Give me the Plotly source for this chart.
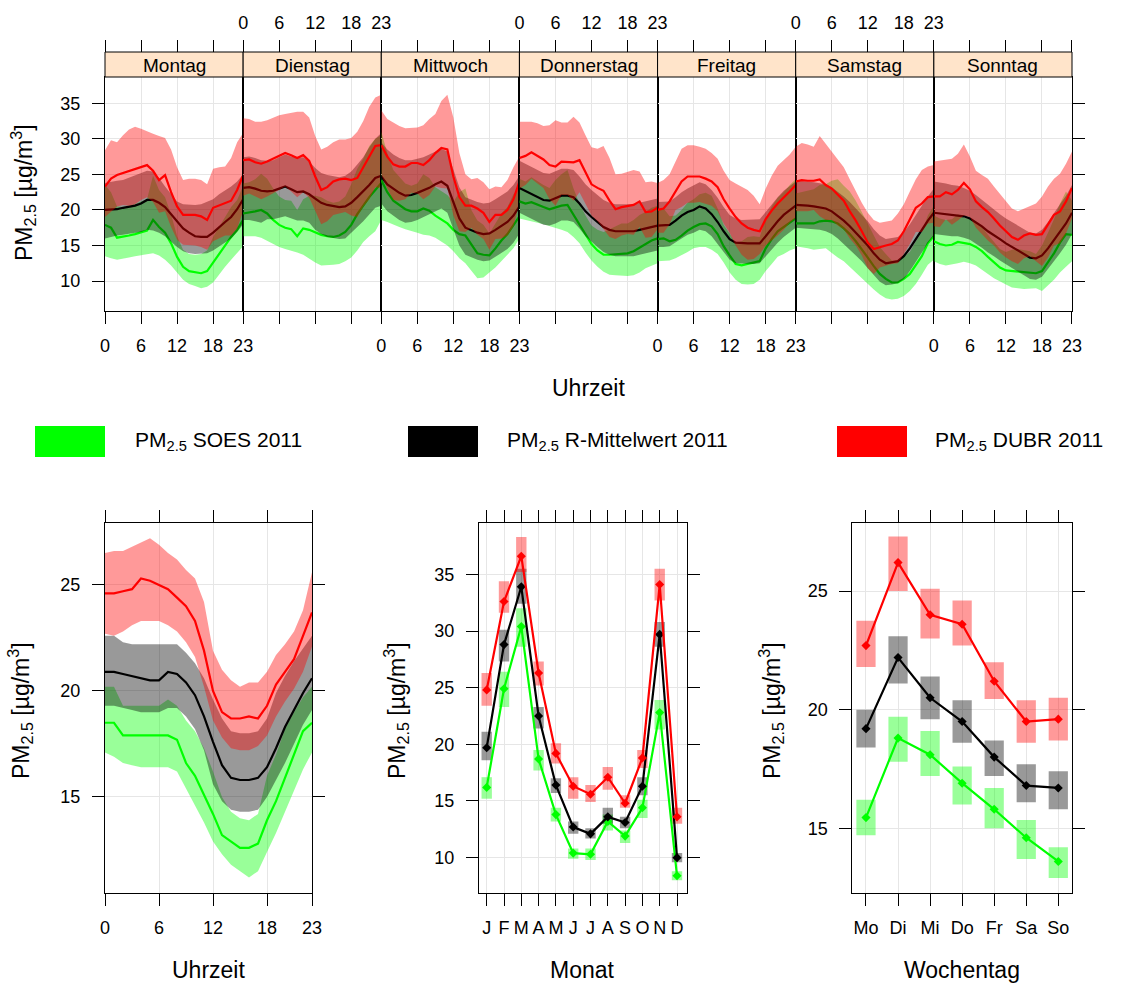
import plotly.graph_objects as go

W, H = 1136, 985
def px(x): return x / W
def py(y): return 1 - y / H

FONT = "Liberation Sans, Arial, sans-serif"

days = ["Montag", "Dienstag", "Mittwoch", "Donnerstag", "Freitag", "Samstag", "Sonntag"]
hours = list(range(24))
hour_ticks = [0, 6, 12, 18, 23]

# ---------------- top panel data (per weekday, per hour) ----------------
dubr_mean = [
 [23.3, 24.4, 24.9, 25.2, 25.5, 25.8, 26.1, 26.3, 25.5, 24.2, 24.9, 22.5, 20.5, 19.3, 19.3, 19.3, 19.1, 18.6, 20.3, 20.6, 20.9, 21.3, 22.8, 24.9],
 [27.0, 27.1, 26.7, 26.5, 26.8, 27.2, 27.6, 28.0, 27.7, 27.3, 27.7, 26.9, 24.7, 22.8, 23.2, 24.0, 24.3, 24.4, 24.2, 24.5, 26.0, 27.5, 29.0, 29.1],
 [29.1, 27.5, 26.4, 26.1, 26.1, 26.6, 26.6, 26.3, 27.0, 28.0, 28.7, 28.5, 24.7, 21.8, 20.6, 20.6, 20.2, 19.6, 18.3, 19.3, 19.3, 20.0, 21.5, 24.0],
 [27.3, 27.6, 28.1, 27.6, 27.1, 26.3, 26.1, 26.8, 26.8, 26.7, 27.0, 25.3, 23.6, 23.1, 22.7, 21.3, 20.1, 20.4, 20.6, 20.7, 21.2, 19.7, 19.8, 20.3],
 [20.0, 20.2, 21.2, 22.6, 24.0, 24.7, 24.7, 24.7, 24.4, 24.0, 23.2, 21.5, 20.2, 19.0, 18.1, 17.5, 17.2, 17.0, 18.7, 19.9, 20.9, 21.7, 22.6, 23.5],
 [24.0, 24.2, 24.1, 24.1, 24.3, 23.5, 23.0, 22.1, 21.3, 19.8, 18.5, 17.0, 15.4, 14.5, 14.8, 15.0, 15.2, 15.7, 17.0, 18.6, 20.3, 20.9, 21.8, 21.9],
 [21.9, 21.9, 22.5, 22.2, 22.8, 23.8, 22.9, 21.2, 20.4, 19.7, 18.8, 17.8, 17.0, 16.2, 15.8, 16.4, 16.7, 16.5, 16.6, 17.9, 19.3, 19.8, 21.2, 23.1],
]
dubr_hi = [
 [28.4, 29.8, 29.5, 30.5, 31.3, 31.7, 31.4, 31.0, 30.7, 30.4, 30.1, 28.5, 26.0, 24.2, 24.4, 24.4, 24.2, 23.6, 25.8, 26.0, 26.1, 27.3, 29.5, 30.8],
 [32.9, 32.8, 32.4, 32.4, 32.6, 33.0, 33.3, 33.5, 33.7, 33.8, 33.8, 33.0, 30.4, 28.5, 28.9, 29.5, 29.9, 29.9, 30.1, 31.0, 32.5, 34.5, 35.8, 36.2],
 [34.0, 32.8, 32.3, 31.8, 31.5, 31.5, 31.6, 31.9, 32.8, 33.5, 35.3, 36.2, 33.0, 28.0, 25.0, 24.3, 24.5, 23.9, 22.9, 23.3, 23.2, 24.2, 26.0, 27.5],
 [32.4, 32.4, 32.4, 32.2, 31.8, 31.9, 32.6, 32.3, 32.3, 33.1, 32.3, 30.5, 28.8, 28.6, 29.0, 27.3, 25.0, 25.1, 25.3, 25.6, 25.4, 23.9, 24.0, 23.8],
 [23.8, 24.2, 25.0, 26.8, 28.6, 29.1, 29.1, 28.9, 28.6, 28.0, 27.2, 25.5, 24.2, 23.7, 23.3, 22.8, 22.0, 20.8, 23.0, 24.8, 26.2, 27.0, 27.8, 28.9],
 [28.9, 29.4, 29.2, 28.9, 30.4, 29.3, 28.2, 27.2, 26.0, 24.3, 22.6, 21.0, 19.6, 18.6, 18.2, 18.3, 18.5, 19.5, 20.8, 22.6, 24.3, 25.6, 26.1, 26.3],
 [26.8, 26.9, 27.0, 27.2, 27.9, 29.2, 27.5, 25.5, 24.9, 24.4, 23.3, 22.3, 21.3, 20.2, 19.8, 20.2, 20.5, 20.9, 21.9, 23.3, 24.4, 25.1, 26.5, 28.2],
]
dubr_lo = [
 [19.0, 19.8, 20.5, 20.7, 20.6, 20.8, 21.4, 21.8, 21.1, 19.6, 19.8, 17.6, 15.8, 15.1, 15.0, 15.0, 14.8, 14.4, 15.6, 16.0, 16.4, 16.4, 17.4, 19.8],
 [22.0, 22.3, 21.9, 21.5, 21.9, 22.3, 22.8, 23.3, 22.6, 21.8, 22.5, 21.7, 19.9, 18.0, 18.4, 19.3, 19.5, 19.7, 19.2, 19.0, 20.5, 21.5, 23.2, 23.1],
 [24.9, 23.0, 21.4, 21.3, 21.5, 22.4, 22.3, 21.5, 22.1, 23.3, 23.1, 23.0, 19.2, 17.0, 16.9, 17.5, 16.5, 15.9, 14.4, 15.9, 16.0, 16.4, 17.7, 21.0],
 [23.0, 23.5, 24.4, 23.7, 23.1, 21.5, 20.6, 22.1, 22.1, 21.3, 22.5, 20.9, 19.2, 18.4, 17.3, 16.2, 15.9, 16.4, 16.6, 16.5, 17.6, 16.1, 16.2, 17.3],
 [16.8, 16.8, 18.0, 20.0, 20.4, 21.0, 21.0, 21.1, 20.8, 20.6, 19.8, 18.1, 16.8, 15.0, 13.7, 13.0, 13.1, 13.8, 15.0, 15.7, 16.4, 17.2, 18.2, 18.9],
 [19.8, 19.8, 19.8, 20.0, 19.1, 18.6, 18.6, 17.8, 17.3, 16.0, 15.0, 13.6, 11.8, 11.0, 11.9, 12.2, 12.4, 12.5, 13.8, 15.2, 16.9, 16.9, 18.1, 18.2],
 [17.7, 17.6, 18.7, 17.9, 18.5, 19.2, 19.0, 17.5, 16.6, 15.7, 15.0, 14.0, 13.3, 12.8, 12.4, 13.2, 13.5, 12.8, 12.1, 13.3, 15.0, 15.3, 16.7, 18.8],
]
rmw_mean = [
 [20.0, 20.0, 20.1, 20.3, 20.4, 20.6, 20.9, 21.4, 21.4, 21.0, 20.4, 19.4, 18.4, 17.4, 16.8, 16.3, 16.2, 16.2, 16.8, 17.6, 18.3, 19.0, 20.1, 21.5],
 [23.1, 23.2, 23.0, 22.7, 22.6, 22.7, 23.0, 23.3, 22.9, 22.5, 22.6, 22.2, 21.6, 21.0, 20.7, 20.5, 20.4, 20.5, 21.0, 21.8, 22.6, 23.5, 24.5, 24.8],
 [24.7, 23.6, 23.0, 22.4, 22.0, 22.1, 22.4, 22.7, 23.1, 23.6, 24.0, 23.4, 21.0, 18.8, 17.5, 17.1, 16.8, 16.6, 16.7, 17.2, 17.7, 18.3, 19.2, 20.5],
 [23.1, 22.7, 22.2, 21.8, 21.4, 21.3, 21.6, 22.0, 22.0, 21.8, 20.9, 19.8, 19.0, 18.3, 17.6, 17.2, 17.0, 17.0, 17.0, 17.0, 17.2, 17.4, 17.6, 17.8],
 [17.8, 17.8, 17.9, 18.5, 19.2, 19.7, 20.0, 20.5, 20.2, 19.4, 18.3, 17.0, 15.9, 15.4, 15.3, 15.3, 15.3, 15.3, 16.3, 17.4, 18.4, 19.3, 20.0, 20.6],
 [20.7, 20.7, 20.6, 20.5, 20.4, 20.2, 19.8, 19.2, 18.5, 17.7, 16.8, 16.0, 15.0, 13.9, 13.0, 12.5, 12.6, 12.8, 13.5, 14.6, 15.9, 17.2, 18.5, 19.6],
 [19.6, 19.5, 19.4, 19.3, 19.3, 19.1, 18.8, 18.3, 17.7, 17.0, 16.5, 15.9, 15.3, 14.8, 14.3, 13.8, 13.3, 13.2, 13.6, 14.6, 15.8, 16.9, 18.1, 19.6],
]
rmw_hi = [
 [23.8, 24.0, 24.1, 24.2, 24.5, 24.8, 25.1, 25.5, 25.4, 24.5, 23.3, 22.2, 21.2, 20.8, 20.7, 20.7, 20.8, 21.1, 21.5, 22.2, 22.7, 23.3, 24.0, 25.0],
 [27.4, 27.5, 27.3, 27.0, 26.9, 27.0, 27.4, 27.8, 27.5, 27.3, 27.4, 26.8, 25.9, 25.2, 24.9, 24.7, 24.6, 24.8, 25.4, 26.4, 27.4, 28.8, 30.0, 30.8],
 [29.5, 28.5, 27.8, 27.3, 27.0, 27.0, 27.2, 27.4, 27.8, 28.2, 28.6, 28.2, 25.8, 23.2, 21.8, 21.4, 21.1, 20.9, 21.0, 21.5, 22.0, 22.6, 23.5, 24.8],
 [26.9, 26.5, 26.0, 25.6, 25.2, 25.1, 25.4, 25.8, 25.8, 25.6, 24.7, 23.6, 22.8, 22.1, 21.4, 21.0, 20.8, 20.8, 20.8, 20.8, 21.0, 21.2, 21.4, 21.6],
 [21.1, 21.1, 21.2, 21.8, 22.5, 23.0, 23.4, 23.9, 23.6, 22.8, 21.7, 20.4, 19.3, 18.8, 18.6, 18.6, 18.6, 18.7, 19.7, 20.8, 21.8, 22.7, 23.4, 24.0],
 [24.1, 24.1, 24.0, 23.9, 23.8, 23.6, 23.2, 22.6, 21.9, 21.1, 20.2, 19.4, 18.4, 17.3, 16.4, 15.9, 16.0, 16.2, 16.9, 18.0, 19.3, 20.6, 21.9, 23.0],
 [24.0, 23.9, 23.7, 23.5, 23.4, 23.1, 22.7, 22.1, 21.4, 20.7, 20.1, 19.4, 18.8, 18.3, 17.8, 17.3, 16.8, 16.7, 17.2, 18.3, 19.6, 20.8, 22.0, 23.5],
]
rmw_lo = [
 [16.0, 16.2, 16.4, 16.5, 16.6, 16.8, 16.9, 17.2, 17.1, 16.8, 16.3, 15.5, 14.8, 14.2, 13.9, 13.8, 13.8, 13.9, 14.3, 14.9, 15.4, 16.0, 16.9, 18.0],
 [18.6, 18.6, 18.4, 18.2, 18.7, 18.7, 18.9, 19.1, 18.8, 18.5, 18.5, 18.2, 17.2, 16.6, 16.2, 16.0, 15.9, 16.0, 16.8, 17.6, 18.4, 19.3, 20.3, 20.6],
 [20.9, 19.8, 19.2, 18.6, 18.2, 18.3, 18.6, 18.9, 19.3, 19.8, 20.2, 19.6, 17.2, 15.0, 13.7, 13.3, 13.0, 12.8, 12.9, 13.4, 13.9, 14.5, 15.4, 16.7],
 [19.6, 19.2, 18.7, 18.3, 17.9, 17.8, 18.1, 18.5, 18.5, 18.3, 17.4, 16.3, 15.5, 14.8, 14.1, 13.7, 13.5, 13.5, 13.5, 13.5, 13.7, 13.9, 14.1, 14.3],
 [14.8, 14.8, 14.9, 15.4, 16.0, 16.5, 16.8, 17.2, 17.0, 16.3, 15.3, 14.1, 13.0, 12.5, 12.4, 12.4, 12.4, 12.5, 13.4, 14.4, 15.4, 16.2, 16.9, 17.5],
 [17.5, 17.5, 17.4, 17.3, 17.2, 17.0, 16.6, 16.0, 15.3, 14.5, 13.6, 12.8, 11.8, 10.8, 9.9, 9.4, 9.5, 9.7, 10.3, 11.4, 12.7, 14.0, 15.3, 16.4],
 [16.6, 16.5, 16.4, 16.3, 16.3, 16.1, 15.8, 15.3, 14.7, 14.0, 13.5, 12.9, 12.3, 11.8, 11.3, 10.8, 10.3, 10.2, 10.6, 11.6, 12.8, 13.9, 15.1, 16.6],
]
soes_mean = [
 [17.9, 17.5, 16.1, 16.2, 16.4, 16.6, 16.9, 17.1, 18.6, 17.6, 16.8, 15.3, 13.4, 12.0, 11.4, 11.2, 11.1, 11.4, 12.6, 13.8, 15.0, 16.2, 17.2, 18.6],
 [19.5, 19.6, 19.8, 20.0, 19.5, 18.6, 17.9, 17.5, 17.3, 16.3, 17.4, 17.2, 16.8, 16.5, 16.3, 16.2, 16.4, 16.9, 17.9, 19.4, 20.6, 21.8, 22.8, 23.8],
 [24.2, 22.5, 21.3, 20.7, 20.1, 19.8, 19.8, 20.2, 19.9, 19.2, 18.7, 18.1, 17.2, 16.6, 16.4, 15.2, 13.9, 13.7, 13.6, 14.6, 15.7, 16.6, 17.9, 19.1],
 [21.2, 20.9, 21.1, 20.7, 20.4, 20.1, 20.4, 20.6, 20.7, 19.3, 17.9, 16.4, 15.2, 14.3, 13.7, 13.7, 13.8, 13.9, 13.9, 14.2, 14.7, 15.2, 15.7, 16.0],
 [15.9, 16.0, 15.6, 15.8, 16.4, 17.1, 17.6, 18.0, 18.1, 17.7, 16.6, 14.9, 13.6, 12.4, 12.2, 12.4, 12.5, 12.8, 14.6, 15.9, 17.0, 17.6, 18.3, 18.8],
 [18.1, 18.1, 18.1, 18.1, 18.4, 18.5, 18.4, 18.1, 17.4, 16.6, 15.6, 14.5, 13.3, 12.1, 11.0, 10.3, 9.8, 9.8, 10.3, 11.0, 12.2, 13.5, 15.3, 16.3],
 [15.6, 15.2, 15.0, 15.1, 15.5, 15.4, 15.2, 14.8, 14.2, 13.4, 12.6, 11.9, 11.5, 11.4, 11.4, 11.3, 11.2, 11.1, 11.4, 12.6, 13.9, 15.4, 16.6, 16.5],
]
soes_hi = [
 [23.5, 22.5, 20.5, 20.4, 20.6, 20.8, 21.2, 21.5, 24.8, 22.8, 21.8, 19.4, 16.3, 14.4, 13.8, 13.7, 13.8, 14.3, 16.2, 17.6, 18.9, 20.4, 21.4, 23.4],
 [23.7, 23.9, 24.3, 25.1, 24.4, 23.0, 21.9, 21.4, 21.3, 20.0, 21.5, 22.0, 22.0, 21.8, 21.3, 21.0, 21.2, 21.9, 23.6, 25.8, 27.2, 29.0, 30.0, 30.5],
 [31.0, 28.0, 25.6, 24.7, 23.7, 23.4, 23.7, 25.0, 24.5, 23.2, 22.7, 22.1, 21.1, 22.5, 23.0, 20.0, 18.5, 17.9, 16.7, 18.1, 19.5, 20.4, 22.2, 23.1],
 [24.4, 24.0, 24.6, 24.0, 23.5, 23.1, 24.2, 25.0, 25.6, 23.0, 20.9, 19.2, 17.8, 17.2, 16.9, 17.3, 17.7, 18.1, 18.1, 18.6, 19.3, 19.7, 20.3, 20.6],
 [19.9, 20.2, 19.1, 19.2, 20.0, 21.0, 21.5, 22.2, 22.4, 22.0, 20.2, 17.9, 16.7, 15.3, 15.6, 16.2, 16.3, 16.2, 18.8, 20.5, 21.7, 22.5, 23.5, 24.3],
 [22.3, 22.5, 22.7, 22.9, 23.5, 23.6, 24.1, 24.3, 23.4, 22.6, 21.3, 19.8, 18.1, 16.4, 14.8, 13.8, 12.9, 12.8, 13.4, 14.1, 15.6, 16.9, 19.2, 20.6],
 [19.2, 18.8, 18.6, 18.7, 19.4, 18.9, 18.7, 18.2, 17.6, 16.5, 15.5, 14.5, 14.1, 14.4, 14.5, 14.4, 14.2, 13.8, 15.0, 16.8, 18.7, 20.9, 22.6, 21.3],
]
soes_lo = [
 [13.5, 13.2, 13.0, 13.1, 13.3, 13.5, 13.6, 13.8, 13.9, 13.6, 13.0, 12.2, 11.2, 10.2, 9.6, 9.3, 9.0, 9.2, 9.8, 10.9, 12.0, 13.0, 14.0, 14.9],
 [16.3, 16.3, 16.3, 16.1, 15.7, 15.2, 14.8, 14.5, 14.2, 14.0, 13.7, 13.2, 12.6, 12.2, 12.2, 12.3, 12.4, 12.8, 13.3, 14.3, 15.5, 16.3, 17.0, 18.6],
 [18.6, 18.3, 18.0, 17.6, 17.3, 17.0, 16.8, 16.5, 16.4, 16.1, 15.6, 15.0, 14.2, 13.2, 12.5, 11.5, 10.4, 10.5, 11.2, 11.9, 12.8, 13.7, 14.6, 16.0],
 [18.8, 18.6, 18.4, 18.2, 18.0, 17.8, 17.5, 17.2, 16.9, 16.2, 15.3, 14.0, 12.9, 12.0, 11.3, 10.9, 10.8, 10.7, 10.7, 10.8, 11.2, 11.8, 12.2, 12.5],
 [12.8, 12.8, 12.9, 13.2, 13.6, 14.1, 14.6, 14.8, 14.8, 14.4, 13.8, 12.6, 11.2, 10.2, 9.6, 9.5, 9.6, 10.2, 11.4, 12.4, 13.4, 13.8, 14.3, 14.6],
 [14.9, 14.7, 14.6, 14.4, 14.5, 14.6, 14.0, 13.3, 12.8, 12.0, 11.2, 10.4, 9.6, 8.8, 8.1, 7.6, 7.4, 7.5, 7.9, 8.6, 9.6, 10.9, 12.3, 13.0],
 [12.8, 12.4, 12.2, 12.3, 12.5, 12.7, 12.5, 12.2, 11.6, 11.0, 10.4, 9.9, 9.5, 9.1, 9.0, 8.9, 8.9, 9.0, 8.6, 9.4, 10.2, 11.2, 12.0, 12.8],
]

# ---------------- bottom-left: hour of day ----------------
hour_dubr_mean = [24.6, 24.6, 24.7, 24.8, 25.3, 25.2, 25.0, 24.8, 24.4, 24.0, 23.3, 21.9, 20.0, 19.0, 18.7, 18.7, 18.8, 18.7, 19.3, 20.3, 20.9, 21.5, 22.6, 23.7]
hour_dubr_hi = [26.5, 26.6, 26.6, 26.8, 27.0, 27.2, 26.9, 26.5, 26.2, 25.7, 25.3, 24.2, 21.9, 21.0, 20.5, 20.2, 20.4, 20.4, 20.9, 21.7, 22.2, 22.8, 23.8, 25.6]
hour_dubr_lo = [22.7, 22.6, 22.8, 23.1, 23.3, 23.3, 23.3, 23.1, 22.8, 22.3, 21.6, 20.2, 18.6, 17.8, 17.3, 17.2, 17.2, 17.4, 17.9, 18.8, 19.5, 20.1, 20.9, 22.1]
hour_rmw_mean = [20.9, 20.9, 20.8, 20.7, 20.6, 20.5, 20.5, 20.9, 20.8, 20.4, 19.8, 18.8, 17.6, 16.5, 15.9, 15.8, 15.8, 15.9, 16.4, 17.3, 18.3, 19.1, 19.9, 20.6]
hour_rmw_hi = [22.6, 22.6, 22.3, 22.2, 22.2, 22.2, 22.2, 22.2, 22.2, 21.8, 21.3, 20.6, 19.6, 18.7, 18.1, 18.0, 18.0, 18.1, 18.7, 19.9, 20.7, 21.4, 22.0, 22.6]
hour_rmw_lo = [19.3, 19.3, 19.2, 19.1, 19.0, 19.0, 19.0, 19.2, 19.2, 18.8, 18.2, 17.2, 15.6, 14.8, 14.4, 14.3, 14.3, 14.4, 15.0, 15.8, 16.6, 17.5, 18.4, 19.1]
hour_soes_mean = [18.5, 18.5, 17.9, 17.9, 17.9, 17.9, 17.9, 17.9, 17.7, 16.6, 16.0, 15.1, 14.2, 13.2, 12.9, 12.6, 12.6, 12.8, 13.9, 14.8, 15.9, 17.0, 18.1, 18.5]
hour_soes_hi = [20.2, 20.2, 19.3, 19.3, 19.3, 19.3, 19.3, 19.6, 19.3, 18.6, 18.1, 17.3, 16.2, 15.0, 14.3, 14.0, 13.9, 14.2, 16.0, 17.0, 18.2, 19.0, 19.7, 20.2]
hour_soes_lo = [17.1, 16.9, 16.6, 16.5, 16.4, 16.4, 16.4, 16.4, 16.2, 15.4, 14.6, 13.8, 12.9, 12.3, 11.8, 11.5, 11.2, 11.5, 12.4, 13.3, 14.3, 15.3, 16.3, 17.1]

# ---------------- bottom-middle: month ----------------
months = list(range(1, 13))
month_labels = ["J", "F", "M", "A", "M", "J", "J", "A", "S", "O", "N", "D"]
mon_dubr_mean = [24.8, 32.6, 36.6, 26.3, 19.2, 16.3, 15.6, 17.1, 14.8, 18.8, 34.1, 13.6]
mon_dubr_lo = [23.4, 31.6, 35.2, 25.2, 18.3, 15.2, 14.9, 16.0, 14.4, 17.9, 32.7, 13.0]
mon_dubr_hi = [26.3, 34.4, 38.3, 27.3, 20.1, 17.1, 16.4, 18.0, 15.5, 19.5, 35.5, 14.4]
mon_rmw_mean = [19.7, 28.8, 33.9, 22.5, 16.4, 12.7, 12.1, 13.6, 13.1, 16.3, 29.7, 10.0]
mon_rmw_lo = [18.6, 27.3, 32.4, 21.4, 15.7, 12.1, 11.7, 13.0, 12.6, 15.5, 28.6, 9.6]
mon_rmw_hi = [21.1, 30.1, 35.5, 23.3, 17.0, 13.2, 12.6, 14.4, 13.6, 17.1, 30.8, 10.4]
mon_soes_mean = [16.2, 24.9, 30.4, 18.7, 13.8, 10.4, 10.3, 13.2, 11.9, 14.4, 22.8, 8.4]
mon_soes_lo = [15.2, 23.3, 28.6, 17.7, 13.2, 9.9, 9.8, 12.4, 11.3, 13.5, 21.3, 8.0]
mon_soes_hi = [17.1, 26.4, 32.0, 19.5, 14.4, 10.8, 10.8, 13.8, 12.4, 15.1, 23.9, 8.8]

# ---------------- bottom-right: weekday ----------------
wdays = list(range(1, 8))
wday_labels = ["Mo", "Di", "Mi", "Do", "Fr", "Sa", "So"]
wd_dubr_mean = [22.7, 26.2, 24.0, 23.6, 21.2, 19.5, 19.6]
wd_dubr_lo = [21.8, 25.0, 23.0, 22.7, 20.45, 18.6, 18.7]
wd_dubr_hi = [23.75, 27.3, 25.1, 24.6, 22.0, 20.4, 20.5]
wd_rmw_mean = [19.2, 22.2, 20.5, 19.5, 18.0, 16.8, 16.7]
wd_rmw_lo = [18.4, 21.1, 19.6, 18.6, 17.2, 16.1, 15.8]
wd_rmw_hi = [20.0, 23.1, 21.4, 20.4, 18.7, 17.7, 17.4]
wd_soes_mean = [15.45, 18.8, 18.1, 16.9, 15.8, 14.6, 13.6]
wd_soes_lo = [14.7, 17.8, 17.2, 16.0, 15.0, 13.7, 12.9]
wd_soes_hi = [16.2, 19.7, 19.1, 17.6, 16.7, 15.35, 14.2]

series_names = ["PM<sub>2.5</sub> SOES 2011", "PM<sub>2.5</sub> R-Mittelwert 2011", "PM<sub>2.5</sub> DUBR 2011"]
line_cols = ["#00FF00", "#000000", "#FF0000"]
band_cols = ["rgba(0,255,0,0.4)", "rgba(0,0,0,0.4)", "rgba(255,0,0,0.4)"]

fig = go.Figure()

GRID = "#E6E6E6"
TICKF = dict(family=FONT, size=18, color="black")

def ax_name(i):
    return "" if i == 1 else str(i)

# ---------------- top panel ----------------
L, R, T, B = 105, 1072, 77, 311
STRIP_TOP = 52
pw = (R - L) / 7
top_series = [(soes_mean, soes_lo, soes_hi), (rmw_mean, rmw_lo, rmw_hi), (dubr_mean, dubr_lo, dubr_hi)]

layout = {}
for k in range(7):
    xi, yi = k + 1, k + 1
    xa, ya = "x" + ax_name(xi), "y" + ax_name(yi)
    for s, (m, lo, hi) in enumerate(top_series):
        fig.add_trace(go.Scatter(x=hours + hours[::-1], y=hi[k] + lo[k][::-1], fill="toself",
                                 fillcolor=band_cols[s], line=dict(width=0), mode="lines",
                                 hoverinfo="skip", xaxis=xa, yaxis=ya))
        fig.add_trace(go.Scatter(x=hours, y=m[k], mode="lines", line=dict(color=line_cols[s], width=2.2),
                                 xaxis=xa, yaxis=ya))
    dom = [px(L + k * pw), px(L + (k + 1) * pw)]
    layout["xaxis" + ax_name(xi)] = dict(
        domain=dom, anchor=ya, range=[0, 23], tickvals=hour_ticks, ticks="outside", ticklen=12,
        tickcolor="black", showline=True, linecolor="black", linewidth=1, mirror=True,
        showgrid=True, gridcolor=GRID, zeroline=False, showticklabels=(k % 2 == 0),
        tickfont=TICKF, ticklabelstandoff=6, fixedrange=True, automargin=False)
    yd = dict(domain=[py(B), py(T)], anchor=xa, range=[5.79, 38.69], tickvals=[10, 15, 20, 25, 30, 35],
              showgrid=True, gridcolor=GRID, zeroline=False, showline=True, linecolor="black",
              linewidth=1, mirror=True, tickfont=TICKF, fixedrange=True, automargin=False)
    if k == 0:
        yd.update(ticks="outside", ticklen=12, tickcolor="black", showticklabels=True, ticklabelstandoff=8)
    elif k == 6:
        yd.update(side="right", ticks="outside", ticklen=12, tickcolor="black", showticklabels=False)
    else:
        yd.update(ticks="", showticklabels=False)
    if k > 0:
        yd["matches"] = "y"
    layout["yaxis" + ax_name(yi)] = yd
    # top tick axis above the strip
    layout["xaxis" + str(8 + k)] = dict(
        overlaying=xa, side="top", anchor="free", position=py(STRIP_TOP), range=[0, 23],
        tickvals=hour_ticks, ticks="outside", ticklen=12, tickcolor="black", showline=False,
        showgrid=False, zeroline=False, showticklabels=(k % 2 == 1), tickfont=TICKF,
        ticklabelstandoff=4, fixedrange=True, automargin=False)
    fig.add_trace(go.Scatter(x=[None], y=[None], xaxis="x" + str(8 + k), yaxis=ya, showlegend=False,
                             hoverinfo="skip"))

shapes = []
annotations = []
def note(text, x, y, size, angle=0, xanchor="center"):
    annotations.append(dict(text=text, xref="paper", yref="paper", x=px(x), y=py(y), showarrow=False,
                            xanchor=xanchor, yanchor="middle", textangle=angle,
                            font=dict(family=FONT, size=size, color="black")))

for k in range(7):
    shapes.append(dict(type="rect", xref="paper", yref="paper", x0=px(L + k * pw), x1=px(L + (k + 1) * pw),
                       y0=py(T), y1=py(STRIP_TOP), fillcolor="#FFE4CA", line=dict(color="black", width=1)))
    note(days[k], L + (k + 0.5) * pw, (T + STRIP_TOP) / 2 + 1, 19)

YT = "PM<sub>2.5</sub> [µg/m<sup>3</sup>]"
note(YT, 23, 193, 23, angle=-90)
note("Uhrzeit", 588, 388, 23)

# ---------------- legend ----------------
leg_box_x = [35, 408, 837]
leg_txt_x = [133, 505, 933]
for s in range(3):
    shapes.append(dict(type="rect", xref="paper", yref="paper", x0=px(leg_box_x[s]), x1=px(leg_box_x[s] + 70),
                       y0=py(457), y1=py(426), fillcolor=line_cols[s], line=dict(width=0)))
    note(series_names[s], leg_txt_x[s], 441, 21, xanchor="left")

# ---------------- bottom panels ----------------
BT, BB = 523, 893
panels = [
    dict(x0=105, x1=312, xr=[0, 23], tv=hour_ticks, tt=None, yr=[10.47, 27.92], ytv=[15, 20, 25], title="Uhrzeit", ytx=20),
    dict(x0=479, x1=686.7, xr=[0.555, 12.56], tv=months, tt=month_labels, yr=[6.88, 39.53], ytv=[10, 15, 20, 25, 30, 35], title="Monat", ytx=396),
    dict(x0=852.3, x1=1072.3, xr=[0.573, 7.437], tv=wdays, tt=wday_labels, yr=[12.27, 27.87], ytv=[15, 20, 25], title="Wochentag", ytx=771),
]
for j, p in enumerate(panels):
    xi, yi = 15 + j, 8 + j
    layout["xaxis%d" % xi] = dict(domain=[px(p["x0"]), px(p["x1"])], anchor="y%d" % yi, range=p["xr"],
                                  tickvals=p["tv"], ticktext=p["tt"], ticks="outside", ticklen=12, tickcolor="black",
                                  showline=True, linecolor="black", mirror="ticks", showgrid=True, gridcolor=GRID,
                                  zeroline=False, tickfont=TICKF, ticklabelstandoff=6, fixedrange=True,
                                  automargin=False)
    layout["yaxis%d" % yi] = dict(domain=[py(BB), py(BT)], anchor="x%d" % xi, range=p["yr"], tickvals=p["ytv"],
                                  ticks="outside", ticklen=12, tickcolor="black", showline=True, linecolor="black",
                                  mirror="ticks", showgrid=True, gridcolor=GRID, zeroline=False, tickfont=TICKF,
                                  ticklabelstandoff=8, fixedrange=True, automargin=False)
    note(p["title"], (p["x0"] + p["x1"]) / 2, 970, 23)
    note(YT, p["ytx"], 711, 23, angle=-90)

# hour panel bands + lines
hour_series = [(hour_soes_mean, hour_soes_lo, hour_soes_hi), (hour_rmw_mean, hour_rmw_lo, hour_rmw_hi),
               (hour_dubr_mean, hour_dubr_lo, hour_dubr_hi)]
for s, (m, lo, hi) in enumerate(hour_series):
    fig.add_trace(go.Scatter(x=hours + hours[::-1], y=hi + lo[::-1], fill="toself", fillcolor=band_cols[s],
                             line=dict(width=0), mode="lines", hoverinfo="skip", xaxis="x15", yaxis="y8"))
    fig.add_trace(go.Scatter(x=hours, y=m, mode="lines", line=dict(color=line_cols[s], width=2.2),
                             xaxis="x15", yaxis="y8"))

def cat_panel(xs, series, xa, ya):
    for s, (m, lo, hi) in enumerate(series):
        fig.add_trace(go.Bar(x=xs, y=[h - l for h, l in zip(hi, lo)], base=lo, width=0.6,
                             marker=dict(color=band_cols[s], line=dict(width=0)), xaxis=xa, yaxis=ya,
                             hoverinfo="skip"))
    for s, (m, lo, hi) in enumerate(series):
        fig.add_trace(go.Scatter(x=xs, y=m, mode="lines+markers", line=dict(color=line_cols[s], width=2.2),
                                 marker=dict(color=line_cols[s], size=7, symbol="diamond"), xaxis=xa, yaxis=ya))

cat_panel(months, [(mon_soes_mean, mon_soes_lo, mon_soes_hi), (mon_rmw_mean, mon_rmw_lo, mon_rmw_hi),
                   (mon_dubr_mean, mon_dubr_lo, mon_dubr_hi)], "x16", "y9")
cat_panel(wdays, [(wd_soes_mean, wd_soes_lo, wd_soes_hi), (wd_rmw_mean, wd_rmw_lo, wd_rmw_hi),
                  (wd_dubr_mean, wd_dubr_lo, wd_dubr_hi)], "x17", "y10")

fig.update_layout(**layout)
fig.update_layout(width=W, height=H, autosize=False,
                  margin=dict(l=0, r=0, t=0, b=0, pad=0, autoexpand=False), paper_bgcolor="white",
                  plot_bgcolor="white", showlegend=False, barmode="overlay", shapes=shapes,
                  annotations=annotations, font=dict(family=FONT, color="black"))

post = ("document.body.style.margin='0px';document.body.style.padding='0px';"
        "document.documentElement.style.overflow='hidden';document.body.style.overflow='hidden';")
fig.write_html("out.html", config={"displayModeBar": False, "responsive": False}, post_script=post)
